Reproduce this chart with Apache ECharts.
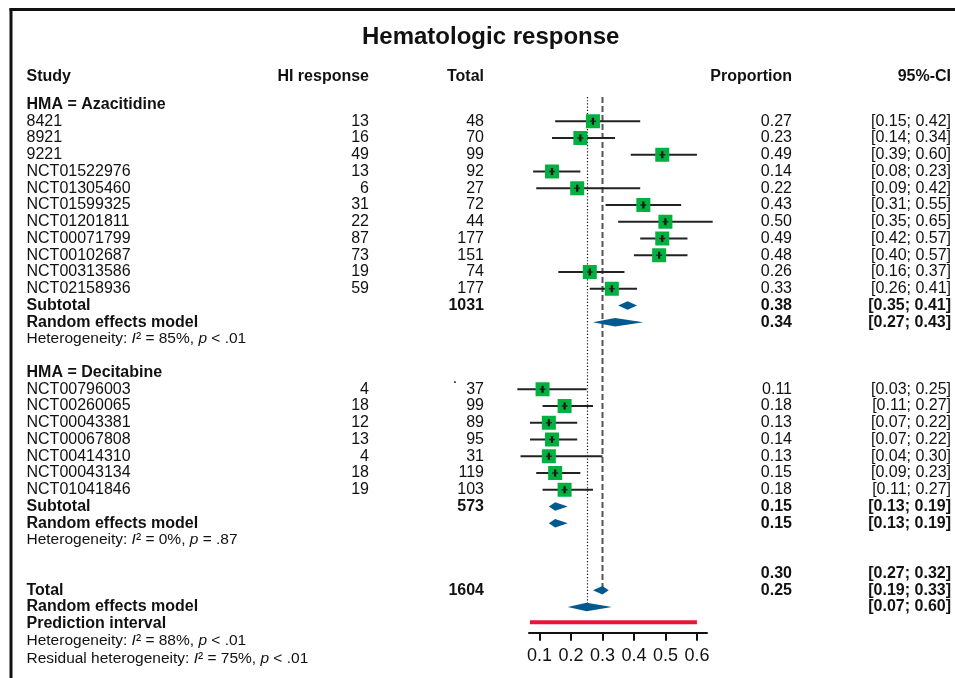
<!DOCTYPE html>
<html><head><meta charset="utf-8">
<script src="https://cdn.jsdelivr.net/npm/echarts@6/dist/echarts.min.js"></script>
<style>html,body{margin:0;padding:0;background:#fff;}#c{width:955px;height:678px;}</style>
</head><body><div id="c"></div>
<script>
// ---------------- data ----------------
const titleText = 'Hematologic response';
const columnHeaders = ['Study', 'HI response', 'Total', 'Proportion', '95%-CI'];

const azaLabel = 'HMA = Azacitidine';
const azaStudies = ['8421','8921','9221','NCT01522976','NCT01305460','NCT01599325','NCT01201811','NCT00071799','NCT00102687','NCT00313586','NCT02158936'];
const azaEvents  = [13,16,49,13,6,31,22,87,73,19,59];
const azaTotals  = [48,70,99,92,27,72,44,177,151,74,177];
const azaProp    = [0.27,0.23,0.49,0.14,0.22,0.43,0.50,0.49,0.48,0.26,0.33];
const azaLow     = [0.15,0.14,0.39,0.08,0.09,0.31,0.35,0.42,0.40,0.16,0.26];
const azaHigh    = [0.42,0.34,0.60,0.23,0.42,0.55,0.65,0.57,0.57,0.37,0.41];

const decLabel = 'HMA = Decitabine';
const decStudies = ['NCT00796003','NCT00260065','NCT00043381','NCT00067808','NCT00414310','NCT00043134','NCT01041846'];
const decEvents  = [4,18,12,13,4,18,19];
const decTotals  = [37,99,89,95,31,119,103];
const decProp    = [0.11,0.18,0.13,0.14,0.13,0.15,0.18];
const decLow     = [0.03,0.11,0.07,0.07,0.04,0.09,0.11];
const decHigh    = [0.25,0.27,0.22,0.22,0.30,0.23,0.27];

// summaries: [estimate, lower, upper]
const azaSubtotal = [0.38,0.35,0.41];
const azaSubtotalN = 1031;
const azaRandom = [0.34,0.27,0.43];
const decSubtotal = [0.15,0.13,0.19];
const decSubtotalN = 573;
const decRandom = [0.15,0.13,0.19];
const totalCommon = [0.30,0.27,0.32];
const totalN = 1604;
const totalRandom = [0.25,0.19,0.33];
const predictionInterval = [0.07,0.60];

const azaHet = ['85%', '< .01'];
const decHet = ['0%', '= .87'];
const totalHet = ['88%', '< .01'];
const residualHet = ['75%', '< .01'];

const xTicks = [0.1,0.2,0.3,0.4,0.5,0.6];

// ---------------- layout ----------------
const FONT = '"Liberation Sans", Arial, Helvetica, sans-serif';
const COL = {study: 26.5, events: 369, total: 484, prop: 792, ci: 951};
const ROW = {header: -1.66, azaHead: 0, azaFirst: 1, decHead: 16, decFirst: 17};
const azaSubRow = ROW.azaFirst + azaStudies.length;      // 12
const decSubRow = ROW.decFirst + decStudies.length;      // 24
const totalRow = decSubRow + 5;                          // 29

const fmt = v => v.toFixed(2);
const ci = (lo, hi) => '[' + fmt(lo) + '; ' + fmt(hi) + ']';

const texts = [];
function T(x, row, text, align, bold, size, rich) {
  texts.push({x, row, text, align, bold: !!bold, size: size || 16, rich});
}
// headers
T(COL.study, ROW.header, columnHeaders[0], 'left', true);
T(COL.events, ROW.header, columnHeaders[1], 'right', true);
T(COL.total, ROW.header, columnHeaders[2], 'right', true);
T(COL.prop, ROW.header, columnHeaders[3], 'right', true);
T(COL.ci, ROW.header, columnHeaders[4], 'right', true);

function group(label, headRow, firstRow, studies, ev, tot, p, lo, hi) {
  T(COL.study, headRow, label, 'left', true);
  studies.forEach((s, i) => {
    const r = firstRow + i;
    T(COL.study, r, s, 'left');
    T(COL.events, r, String(ev[i]), 'right');
    T(COL.total, r, String(tot[i]), 'right');
    T(COL.prop, r, fmt(p[i]), 'right');
    T(COL.ci, r, ci(lo[i], hi[i]), 'right');
  });
}
group(azaLabel, ROW.azaHead, ROW.azaFirst, azaStudies, azaEvents, azaTotals, azaProp, azaLow, azaHigh);
group(decLabel, ROW.decHead, ROW.decFirst, decStudies, decEvents, decTotals, decProp, decLow, decHigh);

function hetText(prefix, h) {
  return prefix + '{it|I}² = ' + h[0] + ', {it|p} ' + h[1];
}
function summary(subRow, n, sub, rnd, het) {
  T(COL.study, subRow, 'Subtotal', 'left', true);
  T(COL.total, subRow, String(n), 'right', true);
  T(COL.prop, subRow, fmt(sub[0]), 'right', true);
  T(COL.ci, subRow, ci(sub[1], sub[2]), 'right', true);
  T(COL.study, subRow + 1, 'Random effects model', 'left', true);
  T(COL.prop, subRow + 1, fmt(rnd[0]), 'right', true);
  T(COL.ci, subRow + 1, ci(rnd[1], rnd[2]), 'right', true);
  T(COL.study, subRow + 2, hetText('Heterogeneity: ', het), 'left', false, 15.5, true);
}
summary(azaSubRow, azaSubtotalN, azaSubtotal, azaRandom, azaHet);
summary(decSubRow, decSubtotalN, decSubtotal, decRandom, decHet);
T(455, ROW.decHead + 0.35, '.', 'center');

// overall (values column sits one row higher in the original)
T(COL.study, totalRow, 'Total', 'left', true);
T(COL.total, totalRow, String(totalN), 'right', true);
T(COL.prop, totalRow - 1, fmt(totalCommon[0]), 'right', true);
T(COL.ci, totalRow - 1, ci(totalCommon[1], totalCommon[2]), 'right', true);
T(COL.study, totalRow + 1, 'Random effects model', 'left', true);
T(COL.prop, totalRow, fmt(totalRandom[0]), 'right', true);
T(COL.ci, totalRow, ci(totalRandom[1], totalRandom[2]), 'right', true);
T(COL.study, totalRow + 2, 'Prediction interval', 'left', true);
T(COL.ci, totalRow + 1, ci(predictionInterval[0], predictionInterval[1]), 'right', true);
T(COL.study, totalRow + 3, hetText('Heterogeneity: ', totalHet), 'left', false, 15.5, true);
T(COL.study, totalRow + 4.1, hetText('Residual heterogeneity: ', residualHet), 'left', false, 15.5, true);

// plot marks
const studyMarks = [];
azaProp.forEach((v, i) => studyMarks.push([v, azaLow[i], azaHigh[i], ROW.azaFirst + i]));
decProp.forEach((v, i) => studyMarks.push([v, decLow[i], decHigh[i], ROW.decFirst + i]));
const diamondMarks = [
  [azaSubtotal[0], azaSubtotal[1], azaSubtotal[2], azaSubRow],
  [azaRandom[0], azaRandom[1], azaRandom[2], azaSubRow + 1],
  [decSubtotal[0], decSubtotal[1], decSubtotal[2], decSubRow],
  [decRandom[0], decRandom[1], decRandom[2], decSubRow + 1],
  [totalCommon[0], totalCommon[1], totalCommon[2], totalRow],
  [totalRandom[0], totalRandom[1], totalRandom[2], totalRow + 1]
];
const refLines = [
  [totalRandom[0], -0.45, totalRow + 1, 'dot'],
  [totalCommon[0], -0.45, totalRow, 'dash']
];
const piMark = [[predictionInterval[0], predictionInterval[1], totalRow + 2]];

const chart = echarts.init(document.getElementById('c'), null, {renderer: 'canvas'});

const option = {
  backgroundColor: '#fff',
  animation: false,
  title: {
    text: titleText, left: 357, top: 20,
    textStyle: {fontFamily: FONT, fontSize: 24, fontWeight: 'bold', color: '#111'}
  },
  graphic: [
    {type: 'line', shape: {x1: 9.5, y1: 9.5, x2: 955, y2: 9.5}, style: {stroke: '#111', lineWidth: 3}},
    {type: 'line', shape: {x1: 11, y1: 8, x2: 11, y2: 678}, style: {stroke: '#111', lineWidth: 3}}
  ],
  grid: [
    {left: 0, right: 0, top: 4, bottom: 4},
    {left: 529, right: 248, top: 4, bottom: 45.3}
  ],
  xAxis: [
    {gridIndex: 0, type: 'value', min: 0, max: 955, show: false},
    {gridIndex: 1, type: 'value', min: 0.067, max: 0.632, position: 'bottom',
      axisLine: {show: true, onZero: false, lineStyle: {color: '#111', width: 2}},
      axisTick: {show: true, customValues: xTicks, length: 8, lineStyle: {color: '#111', width: 2}},
      axisLabel: {show: true, customValues: xTicks, fontSize: 18, fontFamily: FONT, color: '#111', margin: 14,
        formatter: v => v.toFixed(1)},
      splitLine: {show: false}
    }
  ],
  yAxis: [
    {gridIndex: 0, type: 'value', min: -6, max: 34, inverse: true, show: false},
    {gridIndex: 1, type: 'value', min: -6, max: 31.534, inverse: true, show: false}
  ],
  series: [
    {
      type: 'custom', xAxisIndex: 1, yAxisIndex: 1, clip: false, silent: true,
      data: refLines,
      renderItem(params, api) {
        const d = refLines[params.dataIndex];
        const a = api.coord([d[0], d[1]]), b = api.coord([d[0], d[2]]);
        const x = Math.round(a[0]) + 0.5;
        return {type: 'line', shape: {x1: x, y1: a[1], x2: x, y2: b[1]},
          style: d[3] === 'dot'
            ? {stroke: '#111', lineWidth: 1.2, lineDash: [1.2, 2]}
            : {stroke: '#555', lineWidth: 2, lineDash: [6, 3]}};
      }
    },
    {
      type: 'custom', xAxisIndex: 1, yAxisIndex: 1, clip: false, silent: true,
      data: studyMarks,
      renderItem(params, api) {
        const d = studyMarks[params.dataIndex];
        const c = api.coord([d[0], d[3]]);
        const l = api.coord([d[1], d[3]]), h = api.coord([d[2], d[3]]);
        const s = 14;
        return {type: 'group', children: [
          {type: 'line', shape: {x1: l[0], y1: c[1], x2: h[0], y2: c[1]}, style: {stroke: '#222', lineWidth: 1.8}},
          {type: 'rect', shape: {x: c[0] - s / 2, y: c[1] - s / 2, width: s, height: s}, style: {fill: '#00B140'}},
          {type: 'line', shape: {x1: c[0], y1: c[1] - 3.5, x2: c[0], y2: c[1] + 3.5}, style: {stroke: '#111', lineWidth: 2.2}},
          {type: 'line', shape: {x1: c[0] - 3, y1: c[1], x2: c[0] + 3, y2: c[1]}, style: {stroke: '#222', lineWidth: 1.4}}
        ]};
      }
    },
    {
      type: 'custom', xAxisIndex: 1, yAxisIndex: 1, clip: false, silent: true,
      data: diamondMarks,
      renderItem(params, api) {
        const d = diamondMarks[params.dataIndex];
        const c = api.coord([d[0], d[3]]);
        const l = api.coord([d[1], d[3]]), h = api.coord([d[2], d[3]]);
        const hh = 4.2;
        return {type: 'polygon', shape: {points: [[l[0], c[1]], [c[0], c[1] - hh], [h[0], c[1]], [c[0], c[1] + hh]]},
          style: {fill: '#005A8F'}};
      }
    },
    {
      type: 'custom', xAxisIndex: 1, yAxisIndex: 1, clip: false, silent: true,
      data: piMark,
      renderItem(params, api) {
        const d = piMark[params.dataIndex];
        const a = api.coord([d[0], d[2]]), b = api.coord([d[1], d[2]]);
        return {type: 'line', shape: {x1: a[0], y1: a[1] - 1.5, x2: b[0], y2: b[1] - 1.5}, style: {stroke: '#E4163A', lineWidth: 4}};
      }
    },
    {
      type: 'custom', xAxisIndex: 0, yAxisIndex: 0, clip: false, silent: true,
      data: texts.map(t => [t.x, t.row]),
      renderItem(params, api) {
        const t = texts[params.dataIndex];
        const p = api.coord([t.x, t.row]);
        const style = {
          text: t.text, x: p[0], y: p[1], align: t.align, verticalAlign: 'middle',
          fontFamily: FONT, fontSize: t.size, fontWeight: t.bold ? 'bold' : 'normal', fill: '#111'
        };
        if (t.rich) {
          style.rich = {it: {fontFamily: FONT, fontSize: t.size, fontStyle: 'italic', fill: '#111'}};
        }
        return {type: 'text', style};
      }
    }
  ]
};
chart.setOption(option);
</script>
</body></html>
